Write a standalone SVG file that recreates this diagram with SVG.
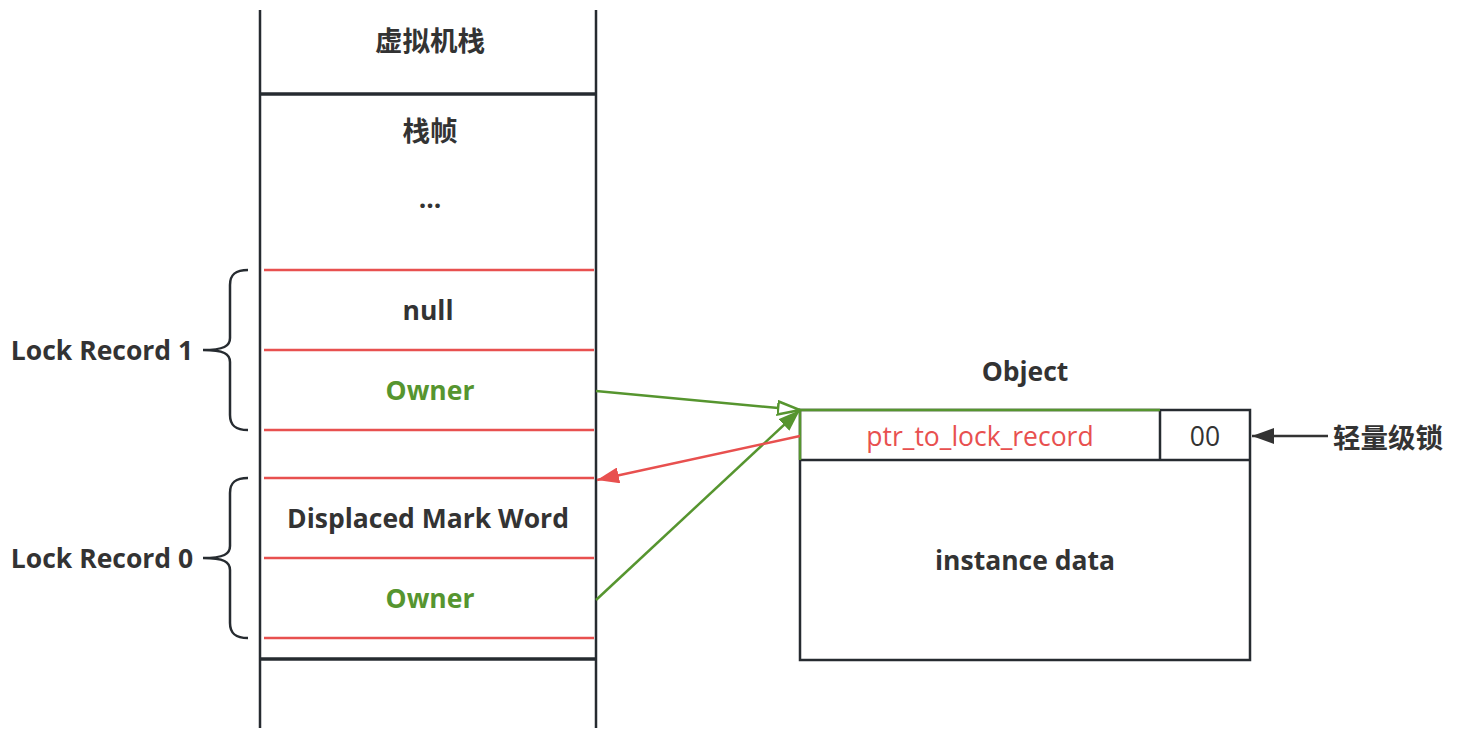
<svg xmlns="http://www.w3.org/2000/svg" width="1458" height="740" viewBox="0 0 1458 740">
<style>
.t{font-family:"Open Sans","Noto Sans CJK SC",sans-serif;font-weight:700;font-size:26.5px;fill:#333;text-anchor:middle;dominant-baseline:central}
.cjk{font-family:"Noto Sans CJK SC",sans-serif;font-weight:700;font-size:27.5px;fill:#333;text-anchor:middle;dominant-baseline:central}
.g{fill:#56952f}
.r{font-family:"Open Sans",sans-serif;font-weight:400;font-size:26.5px;fill:#e8504f;text-anchor:middle;dominant-baseline:central}
.n{font-family:"Open Sans",sans-serif;font-weight:400;font-size:26.5px;fill:#333;text-anchor:middle;dominant-baseline:central}
.k{stroke:#262b30;stroke-width:2.5;fill:none}
.kk{stroke:#262b30;stroke-width:3.5;fill:none}
.red{stroke:#e8504f;stroke-width:2.5;fill:none}
.grn{stroke:#56952f;stroke-width:2.5;fill:none}
</style>
<defs>
<marker id="openG" viewBox="0 0 24 16" refX="23" refY="8" markerWidth="24" markerHeight="16" markerUnits="userSpaceOnUse" orient="auto">
<path d="M1,1.5 L23,8 L1,14.5 z" fill="#fff" stroke="#56952f" stroke-width="2.5"/>
</marker>
<marker id="fillG" viewBox="0 0 22 16" refX="22" refY="8" markerWidth="22" markerHeight="16" markerUnits="userSpaceOnUse" orient="auto">
<path d="M0,0 L22,8 L0,16 z" fill="#56952f"/>
</marker>
<marker id="fillR" viewBox="0 0 22 16" refX="22" refY="8" markerWidth="22" markerHeight="16" markerUnits="userSpaceOnUse" orient="auto">
<path d="M0,0 L22,8 L0,16 z" fill="#e8504f"/>
</marker>
<marker id="fillK" viewBox="0 0 22 16" refX="22" refY="8" markerWidth="22" markerHeight="16" markerUnits="userSpaceOnUse" orient="auto">
<path d="M0,0 L22,8 L0,16 z" fill="#333"/>
</marker>
</defs>
<rect width="1458" height="740" fill="#fff"/>

<g id="stack">
<line class="k" x1="260" y1="10" x2="260" y2="728"/>
<line class="k" x1="596" y1="10" x2="596" y2="728"/>
<line class="kk" x1="260" y1="94" x2="596" y2="94"/>
<line class="kk" x1="260" y1="659" x2="596" y2="659"/>
<text class="cjk" x="430" y="39">虚拟机栈</text>
<text class="cjk" x="430" y="129">栈帧</text>
<text class="t" x="430" y="198">...</text>
</g>

<g id="lock-record-1">
<line class="red" x1="264" y1="270" x2="594" y2="270"/>
<line class="red" x1="264" y1="350" x2="594" y2="350"/>
<line class="red" x1="264" y1="430" x2="594" y2="430"/>
<text class="t" x="428" y="310">null</text>
<text class="t g" x="430" y="390">Owner</text>
<path class="k" d="M248,270 C236,270 230,274 230,285 L230,338 C230,346 224,350 203,350 C224,350 230,354 230,362 L230,415 C230,426 236,430 248,430"/>
<text class="t" x="102" y="350">Lock Record 1</text>
</g>

<g id="lock-record-0">
<line class="red" x1="264" y1="478" x2="594" y2="478"/>
<line class="red" x1="264" y1="558" x2="594" y2="558"/>
<line class="red" x1="264" y1="638" x2="594" y2="638"/>
<text class="t" x="428" y="518">Displaced Mark Word</text>
<text class="t g" x="430" y="598">Owner</text>
<path class="k" d="M248,478 C236,478 230,482 230,493 L230,546 C230,554 224,558 203,558 C224,558 230,562 230,570 L230,623 C230,634 236,638 248,638"/>
<text class="t" x="102" y="558">Lock Record 0</text>
</g>

<g id="object">
<text class="t" x="1025" y="371">Object</text>
<rect class="k" x="800" y="410" width="450" height="250"/>
<line class="k" x1="800" y1="460" x2="1250" y2="460"/>
<line class="k" x1="1160" y1="410" x2="1160" y2="460"/>
<path class="grn" d="M800,460 L800,410 L1160,410"/>
<text class="r" x="980" y="436">ptr_to_lock_record</text>
<text class="n" x="1205" y="436">00</text>
<text class="t" x="1025" y="560">instance data</text>
</g>

<g id="label-lightweight">
<text class="cjk" x="1388" y="436">轻量级锁</text>
</g>

<g id="connectors">
<line class="grn" x1="596" y1="391" x2="800" y2="410" marker-end="url(#openG)"/>
<line class="grn" x1="596" y1="600" x2="800" y2="410" marker-end="url(#fillG)"/>
<line class="red" x1="800" y1="436" x2="597" y2="480" marker-end="url(#fillR)"/>
<line stroke="#333" stroke-width="2.5" x1="1328" y1="436" x2="1252" y2="436" marker-end="url(#fillK)"/>
</g>
</svg>
